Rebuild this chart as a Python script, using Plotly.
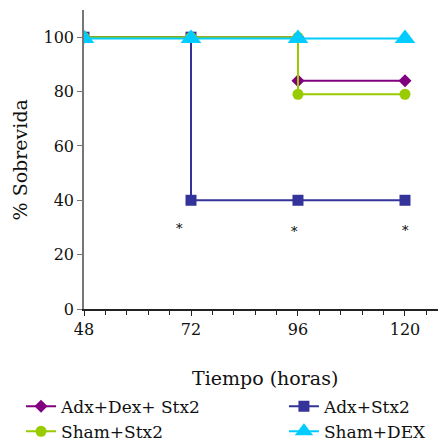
import plotly.graph_objects as go

names = ["Adx+Dex+ Stx2", "Adx+Stx2", "Sham+Stx2", "Sham+DEX"]
colors = ["#800080", "#333399", "#99CC00", "#00CCFF"]
symbols = ["diamond", "square", "circle", "triangle-up"]
sizes = [10, 11, 11, 18]

x_adx_dex = [48, 72, 96, 96, 120]
y_adx_dex = [100, 100, 100, 84, 84]
x_adx = [48, 72, 72, 96, 120]
y_adx = [100, 100, 40, 40, 40]
x_sham_stx = [48, 72, 96, 96, 120]
y_sham_stx = [100, 100, 100, 79, 79]
x_sham_dex = [48, 72, 96, 120]
y_sham_dex = [99.5, 99.5, 99.5, 99.5]

star_x = [69.5, 95.2, 120.2]
star_y = [29.5, 28.5, 28.8]

xticks = [48, 72, 96, 120]
yticks = [0, 20, 40, 60, 80, 100]

x_title = "Tiempo (horas)"
y_title = "% Sobrevida"

series = [(x_adx_dex, y_adx_dex), (x_adx, y_adx), (x_sham_stx, y_sham_stx), (x_sham_dex, y_sham_dex)]
legend_of = ["legend", "legend2", "legend", "legend2"]
font = "DejaVu Serif"

fig = go.Figure()
for i in [0, 1, 2, 3]:
    xs, ys = series[i]
    fig.add_trace(go.Scatter(
        x=xs, y=ys, mode="lines+markers", name=names[i],
        line=dict(color=colors[i], width=2),
        marker=dict(symbol=symbols[i], color=colors[i], size=sizes[i],
                    line=dict(width=0)),
        legend=legend_of[i], legendrank=i + 1,
    ))

for sx, sy in zip(star_x, star_y):
    fig.add_annotation(x=sx, y=sy, text="*", showarrow=False,
                       font=dict(family=font, size=13, color="#000"))

# axis titles as annotations (pixel-precise placement)
fig.add_annotation(xref="paper", yref="paper", x=0.5, y=-0.231, text=x_title,
                   showarrow=False, xanchor="center", yanchor="middle",
                   font=dict(family=font, size=19, color="#111"))
fig.add_annotation(xref="paper", yref="paper", x=-0.177, y=0.5, text=y_title,
                   showarrow=False, xanchor="center", yanchor="middle", textangle=-90,
                   font=dict(family=font, size=19, color="#111"))

leg_common = dict(xref="container", yref="container", xanchor="left", yanchor="top",
                  orientation="v", tracegroupgap=0, itemwidth=30, traceorder="normal",
                  bgcolor="rgba(0,0,0,0)",
                  font=dict(family=font, size=17, color="#111"))

# the page body adds an 8px offset, so the figure is sized/margined to compensate
fig.update_layout(
    width=438, height=433,
    margin=dict(l=76, r=0, t=2, b=132, autoexpand=False),
    paper_bgcolor="white", plot_bgcolor="white",
    font=dict(family=font, size=15, color="#111"),
    showlegend=True,
    legend=dict(x=0.0297, y=0.121, **leg_common),
    legend2=dict(x=0.630, y=0.121, **leg_common),
    xaxis=dict(range=[48, 129.2], tickvals=xticks, showgrid=False, zeroline=False,
               showline=True, linecolor="#222", linewidth=1.5, automargin=False,
               ticks="outside", ticklen=5, tickcolor="#222",
               minor=dict(dtick=4.8, tick0=48, ticks="outside", ticklen=4, tickcolor="#222", showgrid=False),
               tickfont=dict(family=font, size=16)),
    yaxis=dict(range=[0, 110], tickvals=yticks, showgrid=False, zeroline=False,
               showline=True, linecolor="#777", linewidth=1.5, automargin=False,
               ticks="outside", ticklen=5, tickcolor="#777",
               tickfont=dict(family=font, size=16)),
)

fig.write_html("out.html")
